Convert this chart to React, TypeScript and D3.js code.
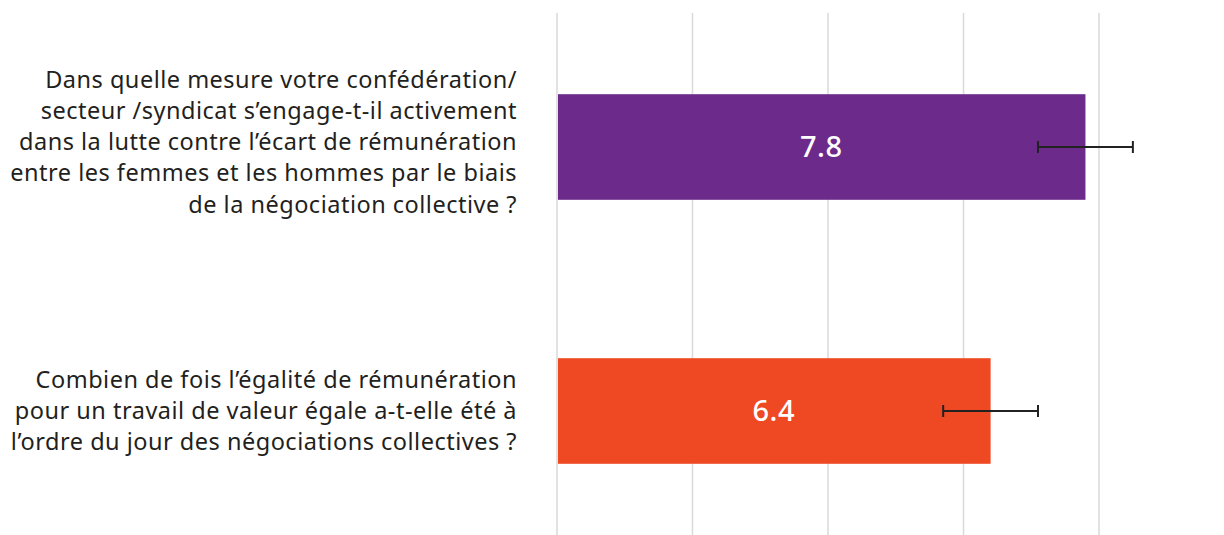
import React, { useEffect, useRef } from 'react';
import * as d3 from 'd3';

// Questions (label lines as in the original)
const questions = [
    [
        'Dans quelle mesure votre confédération/',
        'secteur /syndicat s\u2019engage-t-il activement',
        'dans la lutte contre l\u2019écart de rémunération',
        'entre les femmes et les hommes par le biais',
        'de la négociation collective ?',
    ],
    [
        'Combien de fois l\u2019égalité de rémunération',
        'pour un travail de valeur égale a-t-elle été à',
        'l\u2019ordre du jour des négociations collectives ?',
    ],
];
const values = [7.8, 6.4];
const errLow = [7.1, 5.7];
const errHigh = [8.5, 7.1];
const colors = ['#6C2A8A', '#EF4923'];
const gridTicks = [0, 2, 4, 6, 8];

const W = 1224;
const H = 535;

const App: React.FC = () => {
    const svgRef = useRef<SVGSVGElement>(null);

    useEffect(() => {
        if (!svgRef.current) return;
        const svg = d3.select(svgRef.current);
        svg.selectAll('*').remove();

        const x = d3.scaleLinear().domain([0, 8]).range([557, 1099]);
        const y = d3
            .scaleBand<number>()
            .domain(values.map((_, i) => i))
            .range([15, 543])
            .paddingInner(0.6)
            .paddingOuter(0.3);

        // gridlines
        svg.append('g')
            .selectAll('line')
            .data(gridTicks)
            .join('line')
            .attr('x1', (d) => x(d))
            .attr('x2', (d) => x(d))
            .attr('y1', 13)
            .attr('y2', H)
            .attr('stroke', '#d9d9d9')
            .attr('stroke-width', 1.5);

        // bars
        svg.append('g')
            .selectAll('rect')
            .data(values)
            .join('rect')
            .attr('x', x(0) + 1)
            .attr('y', (_, i) => y(i)!)
            .attr('width', (d) => x(d) - x(0) - 1)
            .attr('height', y.bandwidth())
            .attr('fill', (_, i) => colors[i]);

        // value labels
        svg.append('g')
            .selectAll('text')
            .data(values)
            .join('text')
            .attr('x', (d) => (x(0) + x(d)) / 2)
            .attr('y', (_, i) => y(i)! + y.bandwidth() / 2)
            .attr('dy', '0.36em')
            .attr('text-anchor', 'middle')
            .attr('fill', '#fff')
            .style('font-family', '"Noto Sans", sans-serif')
            .style('font-size', '29px')
            .style('font-weight', 500)
            .style('letter-spacing', '0.5px')
            .text((d) => d.toFixed(1));

        // error bars
        const eb = svg
            .append('g')
            .attr('stroke', '#222')
            .attr('stroke-width', 2);
        values.forEach((_, i) => {
            const cy = y(i)! + y.bandwidth() / 2;
            eb.append('line')
                .attr('x1', x(errLow[i]))
                .attr('x2', x(errHigh[i]))
                .attr('y1', cy)
                .attr('y2', cy);
            [errLow[i], errHigh[i]].forEach((v) => {
                eb.append('line')
                    .attr('x1', x(v))
                    .attr('x2', x(v))
                    .attr('y1', cy - 6)
                    .attr('y2', cy + 6);
            });
        });

        // category labels (long 5-line label sits a little above centre)
        const lh = 31.2;
        const lab = svg
            .append('g')
            .style('font-family', '"Noto Sans", sans-serif')
            .style('font-size', '23.5px')
            .style('letter-spacing', '0.5px')
            .attr('fill', '#231f20');
        questions.forEach((lines, i) => {
            const cy = y(i)! + y.bandwidth() / 2 - (lines.length > 3 ? 5 : 0);
            const top = cy - ((lines.length - 1) * lh) / 2;
            const t = lab
                .append('text')
                .attr('text-anchor', 'end');
            lines.forEach((l, j) => {
                t.append('tspan')
                    .attr('x', 517)
                    .attr('y', top + j * lh)
                    .attr('dy', '0.35em')
                    .text(l);
            });
        });
    }, []);

    return (
        <svg
            ref={svgRef}
            width={W}
            height={H}
            style={{ display: 'block', position: 'absolute', left: 0, top: 0 }}
        />
    );
};

export default App;
